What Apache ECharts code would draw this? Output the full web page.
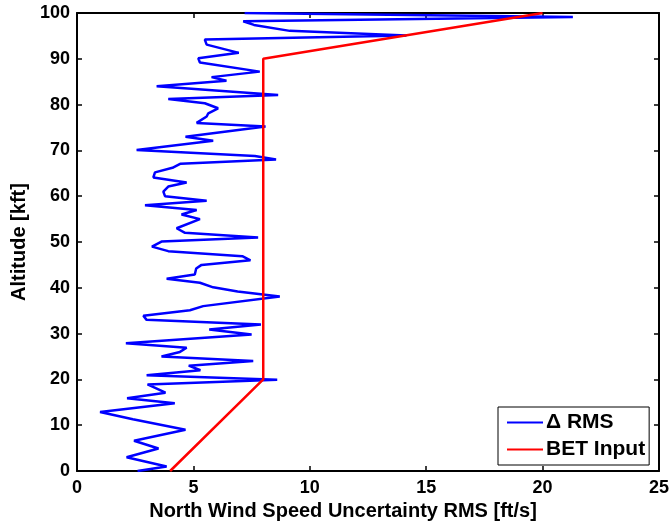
<!DOCTYPE html>
<html>
<head>
<meta charset="utf-8">
<script src="https://cdn.jsdelivr.net/npm/echarts@6/dist/echarts.min.js"></script>
<style>
html,body{margin:0;padding:0;background:#fff;}
#chart{width:671px;height:522px;}
</style>
</head>
<body>
<div id="chart"></div>
<script>
// Blue series: altitude [kft] and RMS [ft/s]
var rmsAlt = [0,1.0,3.0,4.9,6.6,9.0,11.3,12.9,14.8,15.9,17.1,18.9,19.9,20.9,22.0,23.0,24.0,25.0,26.0,26.9,27.9,29.8,30.9,32.0,33.0,33.9,35.1,36.0,38.1,39.2,40.1,41.1,42.0,42.9,44.2,45.0,46.0,46.9,48.0,49.0,50.1,51.0,52.0,53.0,55.0,56.0,57.0,58.0,59.0,60.0,61.0,62.1,63.0,64.1,65.2,66.2,67.1,68.0,68.8,70.1,72.1,73.0,75.2,76.0,77.4,78.1,79.2,80.3,81.2,82.1,84.0,85.2,86.0,87.2,89.2,90.1,91.3,93.1,94.2,95.1,96.1,97.4,98.2,99.1,100];
var rmsVal = [2.6,3.85,2.13,3.5,2.45,4.66,2.4,0.99,4.2,2.15,3.8,3.03,8.6,2.99,5.3,4.8,7.57,3.63,4.42,4.71,2.1,7.5,5.68,7.9,2.99,2.85,4.85,5.42,8.71,6.9,5.85,5.28,3.85,5.06,5.12,5.35,7.45,7.1,3.92,3.22,3.63,7.78,4.64,4.28,5.28,4.49,5.14,2.92,5.57,3.78,3.71,3.92,4.71,3.28,3.35,4.1,4.45,8.55,7.64,2.56,5.85,4.66,8.1,5.14,5.57,5.64,6.06,5.49,3.92,8.64,3.42,6.42,5.78,7.85,5.28,5.21,6.95,5.57,5.49,14.15,9.14,7.6,7.14,21.3,7.2];
// Red series: BET input
var betAlt = [0,20,90,100];
var betVal = [4,8,8,20];
var xTicks = [0,5,10,15,20,25];
var yTicks = [0,10,20,30,40,50,60,70,80,90,100];
var seriesNames = ['\u0394 RMS','BET Input'];

function pairs(vals, alts){ return vals.map(function(v,i){return [v, alts[i]];}); }

var font = 'Liberation Sans, Arial, sans-serif';
var chart = echarts.init(document.getElementById('chart'), null, {renderer:'canvas'});
var axisCommon = {
  axisLine:{show:true, onZero:false, lineStyle:{color:'#000', width:2}},
  axisTick:{show:true, inside:true, length:5, lineStyle:{color:'#000', width:1.5}},
  splitLine:{show:false}
};
chart.setOption({
  animation:false,
  backgroundColor:'#fff',
  grid:{left:77, right:12, top:13, bottom:51, containLabel:false, outerBoundsMode:'none'},
  xAxis:[
    Object.assign({type:'value', position:'bottom', min:xTicks[0], max:xTicks[xTicks.length-1], interval:5,
      name:'North Wind Speed Uncertainty RMS [ft/s]', nameLocation:'middle', nameGap:25,
      nameTextStyle:{fontFamily:font, fontWeight:'bold', fontSize:20, color:'#000', padding:[0,50,0,0]},
      axisLabel:{fontFamily:font, fontWeight:'bold', fontSize:18, color:'#000', margin:8}}, axisCommon),
    Object.assign({type:'value', position:'top', min:0, max:25, interval:5, axisLabel:{show:false}}, axisCommon)
  ],
  yAxis:[
    Object.assign({type:'value', position:'left', min:yTicks[0], max:yTicks[yTicks.length-1], interval:10,
      name:'Altitude [kft]', nameLocation:'middle', nameGap:45,
      nameTextStyle:{fontFamily:font, fontWeight:'bold', fontSize:20, color:'#000'},
      axisLabel:{fontFamily:font, fontWeight:'bold', fontSize:18, color:'#000', margin:7}}, axisCommon),
    Object.assign({type:'value', position:'right', min:0, max:100, interval:10, axisLabel:{show:false}}, axisCommon)
  ],
  legend:{
    show:true, orient:'vertical', left:498, top:407,
    data:seriesNames,
    icon:'rect', itemWidth:36, itemHeight:2, itemGap:6,
    padding:[5,4,5,9],
    backgroundColor:'#fff', borderColor:'#000', borderWidth:1,
    textStyle:{fontFamily:font, fontWeight:'bold', fontSize:21, color:'#000', padding:[0,0,0,-2]}
  },
  series:[
    {name:seriesNames[0], type:'line', data:pairs(rmsVal, rmsAlt), symbol:'none',
     lineStyle:{color:'#0000ff', width:2.5}, itemStyle:{color:'#0000ff'}, z:3},
    {name:seriesNames[1], type:'line', data:pairs(betVal, betAlt), symbol:'none',
     lineStyle:{color:'#ff0000', width:2.5}, itemStyle:{color:'#ff0000'}, z:4}
  ]
});
</script>
</body>
</html>
